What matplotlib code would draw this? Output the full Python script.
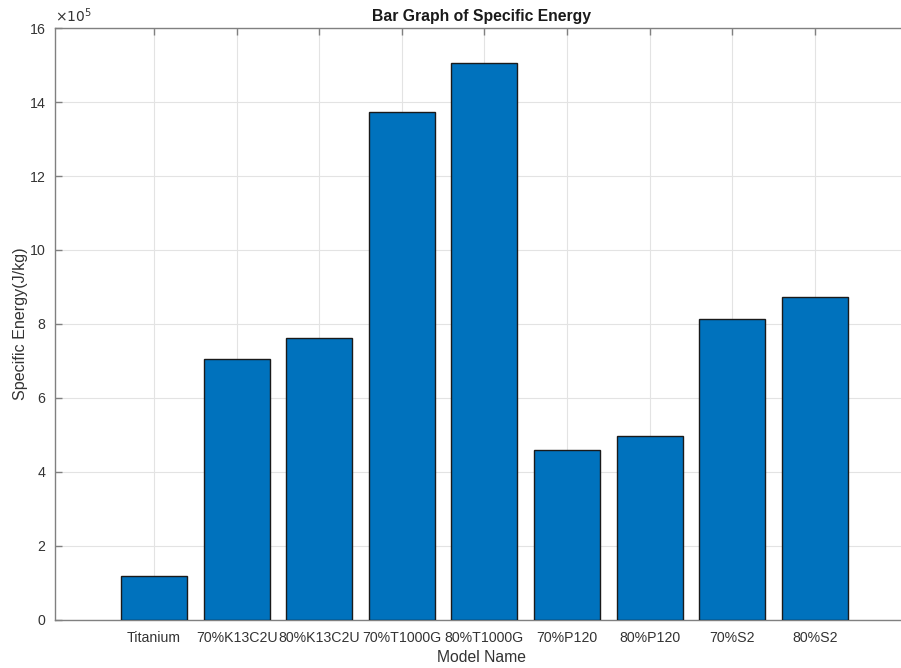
import matplotlib
matplotlib.use("Agg")
import matplotlib.pyplot as plt
from matplotlib.ticker import FixedLocator

plt.rcParams['font.family'] = ['Liberation Sans', 'DejaVu Sans']

models = ["Titanium", "70%K13C2U", "80%K13C2U", "70%T1000G", "80%T1000G",
          "70%P120", "80%P120", "70%S2", "80%S2"]
specific_energy = [1.18e5, 7.06e5, 7.62e5, 13.73e5, 15.07e5,
                   4.60e5, 4.97e5, 8.12e5, 8.74e5]
y_ticks = [0, 2e5, 4e5, 6e5, 8e5, 10e5, 12e5, 14e5, 16e5]

W, H = 901, 668
fig = plt.figure(figsize=(W / 100, H / 100), dpi=100)
left, right, top, bottom = 55, 908, 28.3, 619.5
ax = fig.add_axes([left / W, 1 - bottom / H, (right - left) / W, (bottom - top) / H])

pos = list(range(1, len(models) + 1))
ax.bar(pos, specific_energy, width=0.8, color="#0072BD",
       edgecolor="#1a1a1a", linewidth=1.0, zorder=3)

ax.set_xlim(-0.2, 10.13)
ax.set_ylim(0, 16e5)
ax.xaxis.set_major_locator(FixedLocator(pos))
ax.set_xticklabels(models)
ax.set_yticks(y_ticks)
ax.set_yticklabels([f"{v / 1e5:g}" for v in y_ticks])

for s in ax.spines.values():
    s.set_color("#808080")
    s.set_linewidth(1.0)
ax.tick_params(direction="in", length=5, width=1.0, color="#808080",
               labelcolor="#333333", labelsize=10.2, top=True, right=False)
ax.tick_params(axis="x", pad=8)
ax.tick_params(axis="y", pad=7)
ax.grid(True, color="#e3e3e3", linewidth=0.8, zorder=0)
ax.set_axisbelow(True)

ax.text(0.0, 1.006, r"$\times10^{5}$", transform=ax.transAxes,
        fontsize=10, color="#333333", ha="left", va="bottom")
ax.set_title("Bar Graph of Specific Energy", fontsize=11.3, fontweight="bold",
             color="#1a1a1a", pad=5)
ax.set_xlabel("Model Name", fontsize=11.3, color="#333333", labelpad=4)
ax.set_ylabel("Specific Energy(J/kg)", fontsize=11.6, color="#333333", labelpad=1)

fig.savefig("out.png", dpi=100)
